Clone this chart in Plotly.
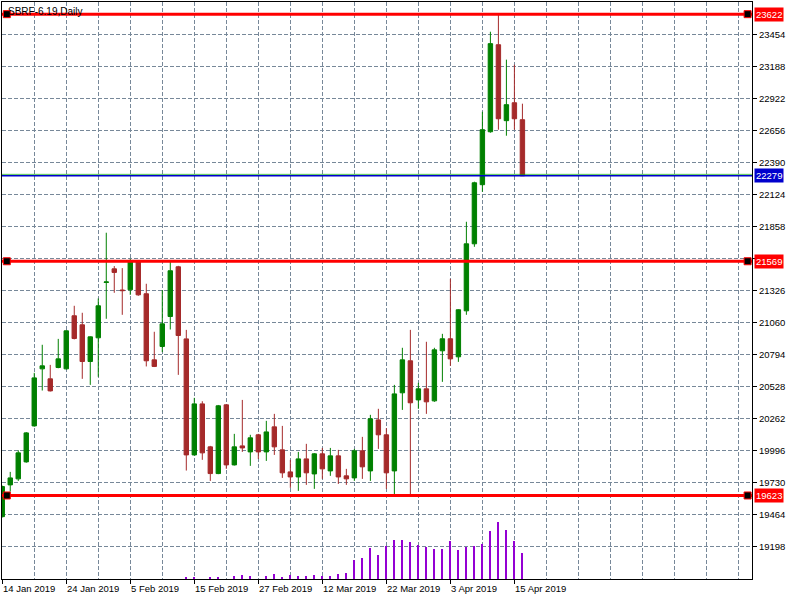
import pandas as pd
import plotly.graph_objects as go

symbol = "SBRF-6.19,Daily"

# trading days (8 Mar is a holiday on MOEX)
days = pd.bdate_range("2019-01-14", "2019-04-16")
days = days[days != pd.Timestamp("2019-03-08")]
dates = [f"{d.day} {d:%b %Y}" for d in days]

opens = [19447, 19711, 19761, 19902, 20201, 20675, 20592, 20686, 20675, 21116,
         21041, 20736, 20933, 21393, 21506, 21330, 21332, 21565, 21299, 20750,
         20861, 21110, 21523, 20924, 19960, 20384, 20027, 19805, 20376, 19877,
         20035, 19985, 20127, 19985, 20193, 20002, 19819, 19777, 19927, 19802,
         19969, 19827, 19952, 19786, 19769, 19994, 19827, 20251, 20127, 19827,
         20476, 20742, 20417, 20509, 20409, 20825, 20925, 20775, 21157, 21714,
         22205, 22645, 23368, 22737, 22886, 22745]
highs = [19705, 19819, 19999, 20150, 20642, 20875, 20708, 20924, 20996, 21199,
         21141, 20945, 21260, 21806, 21529, 21512, 21590, 21575, 21382, 20983,
         21329, 21575, 21531, 20999, 20434, 20406, 20035, 20375, 20380, 20135,
         20417, 20127, 20135, 20243, 20301, 20201, 19919, 19985, 20052, 19975,
         20018, 20018, 20002, 19844, 20010, 20110, 20293, 20343, 20182, 20542,
         20850, 20999, 20559, 20900, 20850, 20966, 21423, 21170, 21897, 22230,
         22811, 23476, 23622, 23244, 23202, 22878]
lows = [19440, 19655, 19744, 19895, 20195, 20495, 20487, 20680, 20670, 20920,
        20592, 20542, 20609, 21091, 21307, 21124, 21290, 21282, 20695, 20690,
        20814, 21002, 20625, 19830, 19955, 19919, 19744, 19800, 19844, 19872,
        19985, 19869, 19927, 19910, 19960, 19769, 19686, 19661, 19711, 19678,
        19761, 19786, 19719, 19711, 19744, 19761, 19744, 20010, 19678, 19625,
        20334, 19623, 20343, 20301, 20401, 20567, 20700, 20733, 21124, 21689,
        22146, 22637, 22662, 22612, 22662, 22279]
closes = [19697, 19769, 19977, 20143, 20600, 20700, 20492, 20758, 20991, 20927,
          20736, 20941, 21199, 21397, 21476, 21325, 21565, 21290, 20742, 20695,
          21049, 21490, 20952, 19960, 20384, 19977, 19805, 20368, 19877, 20027,
          20018, 20102, 19985, 20151, 20027, 19811, 19777, 19927, 19811, 19969,
          19844, 19952, 19777, 19761, 19994, 19861, 20260, 20127, 19811, 20467,
          20750, 20393, 20509, 20401, 20833, 20925, 20758, 21166, 21714, 22221,
          22662, 23377, 22753, 22870, 22753, 22279]
volumes = [0] * 23 + [1200, 1200, 0, 1600, 2100, 0, 3500, 4200, 3200, 0,
                      3500, 5000, 2300, 4000, 3300, 3300, 4000, 3000, 3000, 5000,
                      6000, 19000, 21300, 31300, 24000, 32700, 39000, 39000, 37000, 34000,
                      32000, 30000, 30000, 38000, 29000, 32000, 33000, 35000, 48000, 57000,
                      49000, 38000, 26000]

levels = [23622, 21569, 19623]
bid = 22279
ask = 22291

price_ticks = [19198, 19464, 19730, 19996, 20262, 20528, 20794, 21060, 21326,
               21592, 21858, 22124, 22390, 22656, 22922, 23188, 23454]
price_labels = [str(p) if p != 21592 else "" for p in price_ticks]

idx = list(range(len(dates)))
label_idx = idx[::8]

x_lo, x_hi = -0.03, 93.69
y_lo, y_hi = 18929, 23723
grid = "#778899"
dash = "4px,2px"
red = "#FF0000"
blue = "#0000CD"
bull = "#008000"
bear = "#A52A2A"
fnt = dict(family="Liberation Sans", size=9.5, color="black")
label_font = dict(family="Liberation Sans", size=9.5, color="white")

fig = go.Figure()

fig.add_trace(go.Bar(x=idx, y=volumes, yaxis="y2", width=0.125,
                     marker=dict(color="#9400D3", line=dict(width=0))))

fig.add_trace(go.Candlestick(
    x=idx, open=opens, high=highs, low=lows, close=closes,
    increasing=dict(line=dict(color=bull, width=1), fillcolor=bull),
    decreasing=dict(line=dict(color=bear, width=1), fillcolor=bear),
    whiskerwidth=0))

for lvl in levels:
    fig.add_trace(go.Scatter(x=[x_lo, x_hi], y=[lvl, lvl], mode="lines",
                             line=dict(color=red, width=3)))
fig.add_trace(go.Scatter(x=[x_lo, x_hi], y=[ask, ask], mode="lines",
                         line=dict(color="#00A800", width=0.7)))
fig.add_trace(go.Scatter(x=[x_lo, x_hi], y=[bid, bid], mode="lines",
                         line=dict(color=blue, width=1.5)))

# small anchor squares at both ends of each level line
fig.add_trace(go.Scatter(
    x=[x_lo + 0.6] * len(levels) + [x_hi - 0.55] * len(levels),
    y=levels + levels, mode="markers", cliponaxis=False,
    marker=dict(symbol="square", size=7, color="black",
                line=dict(color=red, width=1))))

annotations = [dict(text=symbol, xref="paper", yref="paper", x=0, y=1,
                    xanchor="left", yanchor="top", xshift=4, yshift=-2,
                    showarrow=False, font=dict(family="Liberation Sans", size=10, color="black"))]
for i in label_idx:
    annotations.append(dict(text=dates[i], x=i, xref="x", y=0, yref="paper",
                            xanchor="left", yanchor="top", xshift=-1, yshift=-2,
                            showarrow=False, font=fnt))
for lvl in levels:
    annotations.append(dict(text=str(lvl), x=1, xref="paper", y=lvl, yref="y",
                            xanchor="left", xshift=2, showarrow=False,
                            bgcolor=red, borderpad=1, font=label_font))
annotations.append(dict(text=str(bid), x=1, xref="paper", y=bid, yref="y",
                        xanchor="left", xshift=2, showarrow=False,
                        bgcolor=blue, borderpad=1, font=label_font))

fig.update_layout(
    width=800, height=600, autosize=False,
    margin=dict(l=2, r=48, t=2, b=21, pad=0),
    paper_bgcolor="white", plot_bgcolor="white",
    showlegend=False, font=fnt,
    boxgap=0.45, boxgroupgap=0, bargap=0,
    annotations=annotations,
    xaxis=dict(range=[x_lo, x_hi], tickmode="array", tickvals=label_idx,
               showticklabels=False, ticks="outside", ticklen=4, tickcolor="black",
               showgrid=True, gridcolor=grid, griddash=dash, gridwidth=1,
               minor=dict(tickmode="linear", tick0=0, dtick=4, ticks="",
                          showgrid=True, gridcolor=grid, griddash=dash, gridwidth=1),
               showline=True, linecolor="black", linewidth=1, mirror=True,
               zeroline=False, rangeslider=dict(visible=False), automargin=False),
    yaxis=dict(side="right", range=[y_lo, y_hi], tickmode="array",
               tickvals=price_ticks, ticktext=price_labels,
               ticks="outside", ticklen=4, tickcolor="black",
               showgrid=True, gridcolor=grid, griddash=dash, gridwidth=1,
               showline=True, linecolor="black", linewidth=1, mirror=True,
               zeroline=False, automargin=False),
    yaxis2=dict(overlaying="y", range=[0, 577000], visible=False),
)

fig.write_html("out.html", config={"displayModeBar": False},
               post_script="document.body.style.margin = '0';")
